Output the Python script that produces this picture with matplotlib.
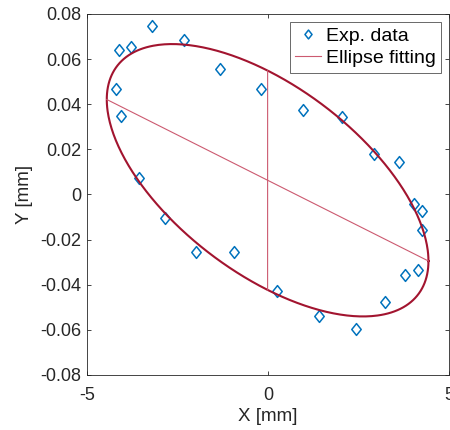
import numpy as np
import matplotlib
matplotlib.use("Agg")
import matplotlib.pyplot as plt
from matplotlib.path import Path

plt.rcParams['font.family'] = ['Liberation Sans', 'DejaVu Sans']

# Measured points (X in mm, Y in mm)
x_data = [-4.11, -3.77, -3.19, -2.33, -1.32, -0.20, 0.96, 2.03, -4.20, -4.06,
          2.94, 3.61, -3.57, -2.84, -1.99, -0.93, 4.04, 4.25, 4.25, 0.26,
          1.40, 2.43, 3.24, 3.77, 4.14]
y_data = [0.0640, 0.0653, 0.0746, 0.0683, 0.0555, 0.0469, 0.0375, 0.0344, 0.0469, 0.0347,
          0.0179, 0.0145, 0.0071, -0.0106, -0.0254, -0.0254, -0.0044, -0.0075, -0.0158, -0.0429,
          -0.0539, -0.0595, -0.0476, -0.0355, -0.0334]

# Fitted ellipse: centre and the two semi-axis vectors
ellipse_center = (-0.01, 0.0063)
major_half = (4.44, -0.0358)
minor_half = (0.0004, 0.0486)

x_ticks = [-5, 0, 5]
y_ticks = [-0.08, -0.06, -0.04, -0.02, 0, 0.02, 0.04, 0.06, 0.08]
y_tick_labels = ['-0.08', '-0.06', '-0.04', '-0.02', '0', '0.02', '0.04', '0.06', '0.08']

blue = '#0072BD'
red = '#A2142F'
axis_red = '#CC5A70'

# Slightly tall diamond marker
diamond = Path([(0, 1), (0.8, 0), (0, -1), (-0.8, 0), (0, 1)],
               [Path.MOVETO, Path.LINETO, Path.LINETO, Path.LINETO, Path.CLOSEPOLY])

fig = plt.figure(figsize=(4.5, 4.3), dpi=100)
ax = fig.add_axes([0.193, 0.128, 0.805, 0.8395])

t = np.linspace(0, 2 * np.pi, 400)
cx, cy = ellipse_center
ex = cx + major_half[0] * np.cos(t) + minor_half[0] * np.sin(t)
ey = cy + major_half[1] * np.cos(t) + minor_half[1] * np.sin(t)

ax.plot(x_data, y_data, linestyle='none', marker=diamond, markersize=8.5,
        markerfacecolor='none', markeredgecolor=blue, markeredgewidth=1.1,
        label='Exp. data')
ax.plot(ex, ey, color=red, linewidth=1.5)
ax.plot([cx - major_half[0], cx + major_half[0]],
        [cy - major_half[1], cy + major_half[1]],
        color=axis_red, linewidth=0.8, label='Ellipse fitting')
ax.plot([cx - minor_half[0], cx + minor_half[0]],
        [cy - minor_half[1], cy + minor_half[1]],
        color=axis_red, linewidth=0.8)

ax.set_xlim(-5, 5)
ax.set_ylim(-0.08, 0.08)
ax.set_xticks(x_ticks)
ax.set_xticklabels([str(v) for v in x_ticks])
ax.set_yticks(y_ticks)
ax.set_yticklabels(y_tick_labels)

ax.tick_params(direction='in', length=3, width=0.6, colors='#262626',
               labelsize=13, top=True, right=True)
ax.tick_params(axis='x', pad=9)
ax.tick_params(axis='y', pad=4)
for s in ax.spines.values():
    s.set_color('#262626')
    s.set_linewidth(0.6)

ax.set_xlabel('X [mm]', fontsize=13.5, color='#262626', labelpad=2.5)
ax.set_ylabel('Y [mm]', fontsize=13.5, color='#262626', labelpad=5)

leg = ax.legend(loc='upper right', fontsize=14, frameon=True, fancybox=False,
                edgecolor='#262626', borderpad=0.3, handlelength=1.3,
                handletextpad=0.25, labelspacing=0.2, borderaxespad=0.4,
                markerscale=0.75)
leg.get_frame().set_linewidth(0.6)

fig.savefig('out.png', dpi=100)
